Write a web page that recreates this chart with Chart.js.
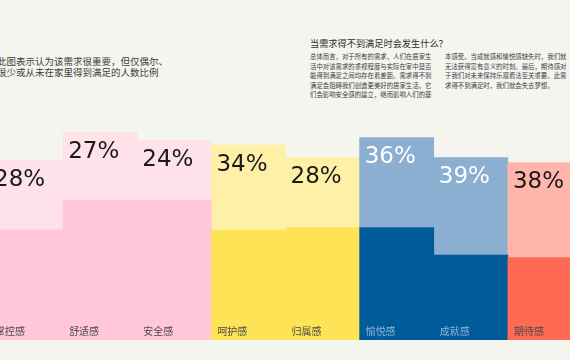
<!DOCTYPE html>
<html>
<head>
<meta charset="utf-8">
<script src="https://cdn.jsdelivr.net/npm/chart.js@4"></script>
<style>
  html, body { margin: 0; padding: 0; }
  body {
    width: 570px; height: 360px; overflow: hidden; position: relative;
    background: #f5f5f0;
    font-family: "Noto Sans CJK SC", sans-serif;
    color: #3a3a3a;
  }
  #caption {
    position: absolute; left: -3px; top: 56px;
    font-size: 9.5px; line-height: 11px; white-space: nowrap; color: #3c3c3c;
  }
  #title {
    position: absolute; left: 310px; top: 37px;
    font-size: 9.2px; line-height: 12px; white-space: nowrap; color: #2e2e2e;
  }
  .col {
    position: absolute; top: 52px;
    font-size: 6.4px; line-height: 9.6px; white-space: nowrap; color: #3c3c3c;
  }
  #chartBox { position: absolute; left: -11px; top: 90px; }
</style>
</head>
<body>
<div id="caption">此图表示认为该需求很重要，但仅偶尔、<br>很少或从未在家里得到满足的人数比例</div>
<div id="title">当需求得不到满足时会发生什么？</div>
<div class="col" style="left:310px">总体而言，对于所有的需求，人们在居家生<br>活中对该需求的重视程度与实际在家中是否<br>能得到满足之间均存在着差距。需求得不到<br>满足会阻碍我们创造更美好的居家生活。它<br>们会影响安全感的建立，继而影响人们的基</div>
<div class="col" style="left:445px">本感受。当成就感和愉悦感缺失时，我们就<br>无法获得富有意义的时刻。最后，期待感对<br>于我们对未来保持乐观看法至关重要。此需<br>求得不到满足时，我们就会失去梦想。</div>
<div id="chartBox"><canvas id="needsChart" width="593" height="250"></canvas></div>
<script>
// needs, left to right
const categories = ["掌控感", "舒适感", "安全感", "呵护感", "归属感", "愉悦感", "成就感", "期待感"];
// lower (darker) block of each bar
const baseShare = [44, 56, 56, 44, 45, 45, 34, 33];
// upper (lighter) block: important but rarely met at home, %
const unmetShare = [28, 27, 24, 34, 28, 36, 39, 38];

const darkColors = ["#ffc7d9", "#ffc7d9", "#ffc7d9", "#ffe356", "#ffe356", "#005b9a", "#005b9a", "#ff6a55"];
const lightColors = ["#ffe1ea", "#ffe1ea", "#ffe1ea", "#fff0a8", "#fff0a8", "#8aafd0", "#8aafd0", "#ffb5aa"];
const onBlue = [false, false, false, false, false, true, true, false];

const barLabels = {
    id: "barLabels",
    afterDatasetsDraw(chart) {
        const ctx = chart.ctx;
        const top = chart.getDatasetMeta(1).data;
        const bottom = chart.getDatasetMeta(0).data;
        ctx.save();
        ctx.textAlign = "left";
        ctx.textBaseline = "middle";
        top.forEach((bar, i) => {
            const left = bar.x - bar.width / 2;
            ctx.font = "23px 'DejaVu Sans'";
            ctx.fillStyle = onBlue[i] ? "#ffffff" : "#1a1a1a";
            ctx.fillText(unmetShare[i] + "%", left + 5, bar.y + 20);

            ctx.font = "10px 'Noto Sans CJK SC'";
            ctx.fillStyle = onBlue[i] ? "#8fb3d6" : "#4a4a4a";
            ctx.fillText(categories[i], left + 6, bottom[i].base - 9);
        });
        ctx.restore();
    }
};

new Chart(document.getElementById("needsChart"), {
    type: "bar",
    data: {
        labels: categories,
        datasets: [{
            data: baseShare,
            backgroundColor: darkColors,
            borderWidth: 0,
            barPercentage: 1,
            categoryPercentage: 1
        }, {
            data: unmetShare,
            backgroundColor: lightColors,
            borderWidth: 0,
            barPercentage: 1,
            categoryPercentage: 1
        }]
    },
    options: {
        responsive: false,
        animation: false,
        layout: { padding: 0 },
        plugins: {
            legend: { display: false },
            tooltip: { enabled: false }
        },
        scales: {
            x: { stacked: true, display: false },
            y: { stacked: true, display: false, min: 0, max: 100 }
        }
    },
    plugins: [barLabels]
});
</script>
</body>
</html>
